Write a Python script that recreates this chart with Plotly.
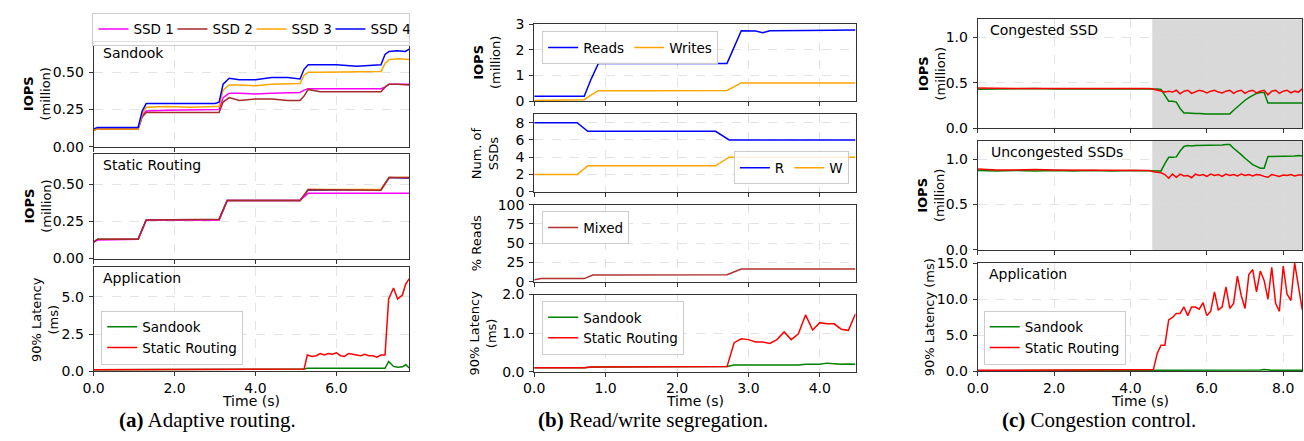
import plotly.graph_objects as go

# ======================= DATA =======================
# (a) Adaptive routing -- Sandook panel (IOPS, million)
t_a_sandook = [0.0, 0.1, 0.5, 1.0, 1.1, 1.2, 1.3, 1.8, 2.4, 3.0, 3.1, 3.2, 3.35, 3.6, 4.0,
               4.4, 4.8, 5.1, 5.2, 5.3, 5.6, 6.0, 6.5, 7.0, 7.1, 7.2, 7.3, 7.5, 7.7, 7.8]
ssd1_sandook = [0.11, 0.12, 0.12, 0.12, 0.12, 0.21, 0.24, 0.245, 0.245, 0.245, 0.25, 0.33, 0.36, 0.36, 0.355,
                0.36, 0.36, 0.365, 0.38, 0.39, 0.39, 0.39, 0.395, 0.39, 0.39, 0.40, 0.42, 0.42, 0.42, 0.42]
ssd2_sandook = [0.11, 0.12, 0.12, 0.12, 0.12, 0.20, 0.23, 0.23, 0.23, 0.23, 0.23, 0.30, 0.33, 0.31, 0.32,
                0.32, 0.31, 0.31, 0.34, 0.385, 0.37, 0.37, 0.37, 0.37, 0.37, 0.40, 0.42, 0.42, 0.415, 0.415]
ssd3_sandook = [0.11, 0.12, 0.12, 0.12, 0.12, 0.22, 0.265, 0.27, 0.265, 0.27, 0.27, 0.38, 0.415, 0.415, 0.41,
                0.42, 0.42, 0.425, 0.48, 0.50, 0.50, 0.50, 0.505, 0.505, 0.505, 0.56, 0.585, 0.59, 0.59, 0.585]
ssd4_sandook = [0.12, 0.13, 0.13, 0.13, 0.13, 0.24, 0.29, 0.29, 0.29, 0.29, 0.30, 0.42, 0.46, 0.45, 0.45,
                0.465, 0.465, 0.455, 0.52, 0.55, 0.55, 0.55, 0.54, 0.55, 0.55, 0.62, 0.64, 0.645, 0.64, 0.655]

# (a) Static routing panel
t_a_static = [0.0, 0.1, 1.1, 1.3, 3.1, 3.3, 5.1, 5.3, 7.1, 7.3, 7.8]
ssd1_static = [0.11, 0.125, 0.13, 0.26, 0.26, 0.39, 0.39, 0.44, 0.44, 0.44, 0.44]
ssd2_static = [0.11, 0.13, 0.13, 0.26, 0.265, 0.39, 0.39, 0.465, 0.46, 0.545, 0.545]
ssd3_static = [0.11, 0.13, 0.13, 0.26, 0.26, 0.39, 0.39, 0.465, 0.465, 0.545, 0.545]
ssd4_static = [0.11, 0.13, 0.13, 0.26, 0.26, 0.39, 0.39, 0.46, 0.465, 0.545, 0.54]

# (a) Application latency (ms)
t_a_lat = [0.0, 3.2, 3.3, 5.2, 5.28, 5.4, 5.5, 5.6, 5.7, 5.8, 5.9, 6.0, 6.1, 6.2, 6.3,
           6.4, 6.5, 6.6, 6.7, 6.8, 6.9, 7.0, 7.1, 7.2, 7.29, 7.41, 7.51, 7.63, 7.71, 7.8]
sandook_lat_a = [0.1, 0.1, 0.15, 0.15, 0.2, 0.2, 0.2, 0.2, 0.2, 0.2, 0.2, 0.2, 0.2, 0.2, 0.2,
                 0.2, 0.2, 0.2, 0.2, 0.2, 0.2, 0.2, 0.2, 0.2, 0.66, 0.33, 0.27, 0.3, 0.44, 0.22]
static_lat_a = [0.1, 0.1, 0.15, 0.15, 1.1, 1.0, 1.05, 1.2, 1.1, 1.2, 1.15, 1.25, 1.05, 1.0, 1.2,
                1.15, 1.05, 1.05, 1.15, 1.05, 1.05, 0.95, 1.1, 1.1, 4.87, 5.6, 4.87, 5.13, 5.86, 6.24]

# (b) Read/write segregation
t_b_iops = [0.0, 0.7, 0.8, 0.9, 1.5, 2.0, 2.7, 2.9, 3.1, 3.2, 3.3, 3.8, 4.5]
reads_b = [0.19, 0.19, 0.88, 1.48, 1.47, 1.48, 1.47, 2.74, 2.73, 2.66, 2.74, 2.75, 2.77]
writes_b = [0.03, 0.06, 0.25, 0.41, 0.41, 0.42, 0.42, 0.71, 0.71, 0.71, 0.71, 0.72, 0.71]

t_b_ssd = [0.0, 0.6, 0.75, 2.54, 2.73, 4.5]
ssd_r_b = [8, 8, 7, 7, 6, 6]
ssd_w_b = [2, 2, 3, 3, 4, 4]

t_b_mix = [0.0, 0.1, 0.7, 0.82, 2.7, 2.8, 2.9, 4.5]
mixed_b = [2.5, 4, 4, 8.75, 9, 13, 16.5, 16.5]

t_b_lat = [0.0, 0.7, 0.8, 2.7, 2.8, 2.9, 3.0, 3.1, 3.2, 3.3, 3.4,
           3.5, 3.6, 3.7, 3.8, 3.9, 4.0, 4.1, 4.2, 4.3, 4.4, 4.5]
sandook_lat_b = [0.1, 0.1, 0.12, 0.13, 0.17, 0.17, 0.17, 0.17, 0.17, 0.17, 0.18,
                 0.18, 0.17, 0.17, 0.19, 0.19, 0.19, 0.22, 0.2, 0.19, 0.2, 0.19]
static_lat_b = [0.1, 0.1, 0.12, 0.13, 0.75, 0.85, 0.83, 0.77, 0.77, 0.73, 0.83,
                1.03, 0.83, 0.98, 1.47, 1.08, 1.27, 1.24, 1.24, 1.1, 1.07, 1.5]

# (c) Congestion control
t_c = [0.0, 0.5, 1.0, 1.5, 2.0, 2.5, 3.0, 3.5, 4.0, 4.5,
       4.6, 4.7, 4.8, 4.9, 5.0, 5.1, 5.2, 5.3, 5.4, 5.5,
       5.6, 5.7, 5.8, 5.9, 6.0, 6.1, 6.2, 6.3, 6.4, 6.5,
       6.6, 6.7, 6.8, 6.9, 7.0, 7.1, 7.2, 7.3, 7.4, 7.5,
       7.6, 7.7, 7.8, 7.9, 8.0, 8.1, 8.2, 8.3, 8.4, 8.5]
cong_sandook = [0.43, 0.435, 0.435, 0.44, 0.435, 0.435, 0.44, 0.435, 0.44, 0.435,
                0.435, 0.435, 0.43, 0.36, 0.30, 0.30, 0.29, 0.22, 0.17, 0.17,
                0.165, 0.165, 0.165, 0.16, 0.16, 0.16, 0.16, 0.155, 0.155, 0.16,
                0.16, 0.20, 0.24, 0.28, 0.31, 0.34, 0.36, 0.385, 0.395, 0.395,
                0.28, 0.28, 0.28, 0.28, 0.28, 0.275, 0.275, 0.275, 0.275, 0.28]
cong_static = [0.445, 0.44, 0.44, 0.44, 0.44, 0.44, 0.44, 0.44, 0.44, 0.44,
               0.43, 0.42, 0.41, 0.40, 0.41, 0.40, 0.42, 0.38, 0.41, 0.42,
               0.385, 0.40, 0.42, 0.41, 0.39, 0.41, 0.42, 0.40, 0.39, 0.41,
               0.42, 0.385, 0.41, 0.42, 0.385, 0.41, 0.42, 0.39, 0.41, 0.42,
               0.37, 0.41, 0.42, 0.385, 0.41, 0.42, 0.39, 0.41, 0.40, 0.435]
uncong_sandook = [0.875, 0.87, 0.875, 0.87, 0.875, 0.87, 0.875, 0.87, 0.875, 0.875,
                  0.87, 0.87, 0.87, 0.95, 1.02, 1.02, 1.025, 1.09, 1.14, 1.15,
                  1.145, 1.15, 1.15, 1.15, 1.155, 1.15, 1.155, 1.155, 1.155, 1.16,
                  1.16, 1.12, 1.09, 1.05, 1.01, 0.97, 0.94, 0.92, 0.90, 0.90,
                  1.03, 1.03, 1.03, 1.035, 1.03, 1.03, 1.035, 1.035, 1.04, 1.035]
uncong_static = [0.89, 0.88, 0.88, 0.885, 0.88, 0.88, 0.88, 0.88, 0.88, 0.875,
                 0.86, 0.855, 0.85, 0.83, 0.79, 0.835, 0.80, 0.835, 0.815, 0.82,
                 0.795, 0.835, 0.82, 0.83, 0.81, 0.835, 0.82, 0.83, 0.81, 0.835,
                 0.82, 0.83, 0.815, 0.835, 0.82, 0.83, 0.815, 0.83, 0.825, 0.81,
                 0.80, 0.83, 0.82, 0.81, 0.825, 0.82, 0.83, 0.815, 0.825, 0.825]
sandook_lat_c = [0.05, 0.05, 0.05, 0.05, 0.05, 0.05, 0.05, 0.05, 0.05, 0.05,
                 0.08, 0.1, 0.1, 0.1, 0.1, 0.1, 0.1, 0.1, 0.1, 0.1,
                 0.1, 0.1, 0.1, 0.1, 0.1, 0.1, 0.1, 0.1, 0.1, 0.1,
                 0.1, 0.1, 0.1, 0.1, 0.1, 0.1, 0.1, 0.12, 0.15, 0.2,
                 0.12, 0.1, 0.1, 0.1, 0.1, 0.1, 0.1, 0.1, 0.1, 0.1]
static_lat_c = [0.1, 0.1, 0.1, 0.1, 0.1, 0.1, 0.1, 0.1, 0.1, 0.1,
                0.2, 2.45, 3.6, 3.6, 7.1, 7.45, 8.0, 8.0, 8.9, 7.7,
                8.9, 8.9, 8.6, 9.5, 7.7, 8.3, 11.0, 8.5, 8.9, 11.7,
                8.7, 9.4, 13.2, 10.5, 8.7, 13.4, 14.1, 11.0, 13.9, 12.6,
                10.0, 14.4, 9.4, 8.3, 14.6, 10.7, 9.8, 15.0, 11.6, 8.5]
congestion_start = 4.57

# ======================= STYLE / LAYOUT =======================
W, H = 1304, 441
FONT = "DejaVu Sans"
TICK = 14
LEG = 13.5
LBL = 13


def fx(px):
    return px / W


def fy(py):
    return 1 - py / H


C_SSD1, C_SSD2, C_SSD3, C_SSD4 = "#ff00ff", "#a52a2a", "#ffa500", "#0000ff"
C_SANDOOK, C_STATIC = "#008000", "#ff0000"

XA, XB, XC = (83.3, 401.7), (527.7, 851.7), (975, 1302.3)

subplots = {
    1: dict(xd=XA, yd=(35, 144), xr=[0, 7.8], yr=[0, 0.705], yt=[0, 0.25, 0.5], yf=".2f", xt=[0, 2, 4, 6], xl=False),
    2: dict(xd=XA, yd=(152, 260), xr=[0, 7.8], yr=[0, 0.7], yt=[0, 0.25, 0.5], yf=".2f", xt=[0, 2, 4, 6], xl=False),
    3: dict(xd=XA, yd=(269, 377), xr=[0, 7.8], yr=[0, 7.0], yt=[0, 2.5, 5.0], yf=".1f", xt=[0, 2, 4, 6], xl=True),
    4: dict(xd=XB, yd=(16.7, 96.7), xr=[0, 4.5], yr=[0, 3], yt=[0, 1, 2, 3], yf="d", xt=[0, 1, 2, 3, 4], xl=False),
    5: dict(xd=XB, yd=(110, 190.7), xr=[0, 4.5], yr=[0, 9], yt=[0, 2, 4, 6, 8], yf="d", xt=[0, 1, 2, 3, 4], xl=False),
    6: dict(xd=XB, yd=(204, 284), xr=[0, 4.5], yr=[0, 100], yt=[0, 25, 50, 75, 100], yf="d", xt=[0, 1, 2, 3, 4], xl=False),
    7: dict(xd=XB, yd=(297.3, 377.3), xr=[0, 4.5], yr=[0, 2], yt=[0, 1, 2], yf=".1f", xt=[0, 1, 2, 3, 4], xl=True),
    8: dict(xd=XC, yd=(11.7, 125), xr=[0, 8.5], yr=[0, 1.2], yt=[0, 0.5, 1.0], yf=".1f", xt=[0, 2, 4, 6, 8], xl=False),
    9: dict(xd=XC, yd=(138, 251), xr=[0, 8.5], yr=[0, 1.2], yt=[0, 0.5, 1.0], yf=".1f", xt=[0, 2, 4, 6, 8], xl=False),
    10: dict(xd=XC, yd=(264.7, 376.7), xr=[0, 8.5], yr=[0, 15], yt=[0, 5, 10, 15], yf=".1f", xt=[0, 2, 4, 6, 8], xl=True),
}


def xname(k):
    return "xaxis" if k == 1 else f"xaxis{k}"


def yname(k):
    return "yaxis" if k == 1 else f"yaxis{k}"


def xref(k):
    return "x" if k == 1 else f"x{k}"


def yref(k):
    return "y" if k == 1 else f"y{k}"


fig = go.Figure()


def line(k, x, y, color, name, legend=None, show=False):
    fig.add_trace(go.Scatter(
        x=x, y=y, mode="lines", name=name,
        line=dict(color=color, width=1.5),
        xaxis=xref(k), yaxis=yref(k),
        showlegend=show, legend=legend if legend else "legend",
        hoverinfo="skip"))


# (a) Sandook
line(1, t_a_sandook, ssd1_sandook, C_SSD1, "SSD 1", "legend", True)
line(1, t_a_sandook, ssd2_sandook, C_SSD2, "SSD 2", "legend", True)
line(1, t_a_sandook, ssd3_sandook, C_SSD3, "SSD 3", "legend", True)
line(1, t_a_sandook, ssd4_sandook, C_SSD4, "SSD 4", "legend", True)
# (a) Static
line(2, t_a_static, ssd4_static, C_SSD4, "SSD 4")
line(2, t_a_static, ssd3_static, C_SSD3, "SSD 3")
line(2, t_a_static, ssd1_static, C_SSD1, "SSD 1")
line(2, t_a_static, ssd2_static, C_SSD2, "SSD 2")
# (a) latency
line(3, t_a_lat, sandook_lat_a, C_SANDOOK, "Sandook", "legend2", True)
line(3, t_a_lat, static_lat_a, C_STATIC, "Static Routing", "legend2", True)
# (b)
line(4, t_b_iops, reads_b, "#0000ff", "Reads", "legend3", True)
line(4, t_b_iops, writes_b, "#ffa500", "Writes", "legend3", True)
line(5, t_b_ssd, ssd_r_b, "#0000ff", "R", "legend4", True)
line(5, t_b_ssd, ssd_w_b, "#ffa500", "W", "legend4", True)
line(6, t_b_mix, mixed_b, "#b03030", "Mixed", "legend5", True)
line(7, t_b_lat, sandook_lat_b, C_SANDOOK, "Sandook", "legend6", True)
line(7, t_b_lat, static_lat_b, C_STATIC, "Static Routing", "legend6", True)
# (c)
line(8, t_c, cong_sandook, C_SANDOOK, "Sandook")
line(8, t_c, cong_static, C_STATIC, "Static Routing")
line(9, t_c, uncong_sandook, C_SANDOOK, "Sandook")
line(9, t_c, uncong_static, C_STATIC, "Static Routing")
line(10, t_c, sandook_lat_c, C_SANDOOK, "Sandook", "legend7", True)
line(10, t_c, static_lat_c, C_STATIC, "Static Routing", "legend7", True)

layout = dict(
    width=W, height=H,
    margin=dict(l=0, r=0, t=0, b=0, pad=0),
    paper_bgcolor="white", plot_bgcolor="white",
    font=dict(family=FONT, size=TICK, color="black"),
    hovermode=False,
)

axis_common = dict(
    showline=True, linecolor="#333333", linewidth=1, mirror=True,
    ticks="outside", ticklen=4, tickwidth=1, tickcolor="#333333",
    showgrid=True, gridcolor="#dcdcdc", griddash="dash", gridwidth=0.8,
    zeroline=False, fixedrange=True,
    tickfont=dict(family=FONT, size=TICK, color="black"),
)

for k, s in subplots.items():
    layout[xname(k)] = dict(
        axis_common, domain=[fx(s["xd"][0]), fx(s["xd"][1])], range=s["xr"],
        anchor=yref(k), tickvals=s["xt"], tickformat=".1f", showticklabels=s["xl"],
        ticklabelstandoff=0)
    layout[yname(k)] = dict(
        axis_common, domain=[fy(s["yd"][1]), fy(s["yd"][0])], range=s["yr"],
        anchor=xref(k), tickvals=s["yt"], tickformat=s["yf"], ticklabelstandoff=2)

leg_common = dict(
    bgcolor="rgba(255,255,255,0.85)", bordercolor="#cccccc", borderwidth=1,
    font=dict(family=FONT, size=LEG, color="black"), tracegroupgap=0,
)
layout["legend"] = dict(leg_common, orientation="h", entrywidth=34, x=fx(242.5), xanchor="center", y=fy(5), yanchor="top")
layout["legend2"] = dict(leg_common, x=fx(91), xanchor="left", y=fy(370), yanchor="bottom")
layout["legend3"] = dict(leg_common, orientation="h", x=fx(535.7), xanchor="left", y=fy(24), yanchor="top")
layout["legend4"] = dict(leg_common, orientation="h", x=fx(845), xanchor="right", y=fy(183), yanchor="bottom")
layout["legend5"] = dict(leg_common, x=fx(535.7), xanchor="left", y=fy(211), yanchor="top")
layout["legend6"] = dict(leg_common, x=fx(535.7), xanchor="left", y=fy(304), yanchor="top")
layout["legend7"] = dict(leg_common, x=fx(981), xanchor="left", y=fy(370), yanchor="bottom")

# shaded congestion period
layout["shapes"] = [
    dict(type="rect", xref="x8", yref="y8 domain", x0=congestion_start, x1=8.5, y0=0, y1=1,
         fillcolor="#d9d9d9", line=dict(width=0), layer="below"),
    dict(type="rect", xref="x9", yref="y9 domain", x0=congestion_start, x1=8.5, y0=0, y1=1,
         fillcolor="#d9d9d9", line=dict(width=0), layer="below"),
]

ann = []


def text(px, py, s, size=TICK, xanchor="left", yanchor="middle", angle=0, family=FONT):
    ann.append(dict(xref="paper", yref="paper", x=fx(px), y=fy(py), text=s, showarrow=False,
                    xanchor=xanchor, yanchor=yanchor, textangle=angle,
                    font=dict(family=family, size=size, color="black")))


IOPS = "<span style='font-size:13px'><b>IOPS</b></span><br>(million)"
LAT2 = "90% Latency<br>(ms)"

# in-plot labels
text(90.5, 46.5, "Sandook")
text(91, 163, "Static Routing")
text(91, 280, "Application")
text(985.5, 23, "Congested SSD")
text(986, 149.3, "Uncongested SSDs")
text(984, 276, "Application")

# y-axis titles
text(26.5, 89.5, IOPS, LBL, "center", "middle", -90)
text(26.5, 206, IOPS, LBL, "center", "middle", -90)
text(35, 323, LAT2, LBL, "center", "middle", -90)
text(479.5, 56.7, IOPS, LBL, "center", "middle", -90)
text(477.5, 150.3, "Num. of<br>SSDs", LBL, "center", "middle", -90)
text(469, 244, "% Reads", LBL, "center", "middle", -90)
text(476.5, 337.3, LAT2, LBL, "center", "middle", -90)
text(928.5, 68.3, IOPS, LBL, "center", "middle", -90)
text(928.5, 194.5, IOPS, LBL, "center", "middle", -90)
text(926, 320.7, "90% Latency (ms)", LBL, "center", "middle", -90)

# x-axis titles
text(242.5, 408, "Time (s)", TICK, "center", "middle")
text(689.7, 408, "Time (s)", TICK, "center", "middle")
text(1138.7, 408, "Time (s)", TICK, "center", "middle")

# captions
SERIF = "Liberation Serif"
text(198, 427, "<b>(a)</b> Adaptive routing.", 21, "center", "middle", 0, SERIF)
text(647.5, 427, "<b>(b)</b> Read/write segregation.", 21, "center", "middle", 0, SERIF)
text(1097, 427, "<b>(c)</b> Congestion control.", 21, "center", "middle", 0, SERIF)

layout["annotations"] = ann
fig.update_layout(**layout)

# reset the browser's default page margin right after the plot is created
PAGE_FIX = ("}); document.documentElement.style.margin='0'; document.body.style.margin='0'; "
            "document.body.style.overflow='hidden'; (function(){")

fig.write_html(
    "out.html",
    config={"displayModeBar": False, "staticPlot": True},
    post_script=PAGE_FIX,
)
